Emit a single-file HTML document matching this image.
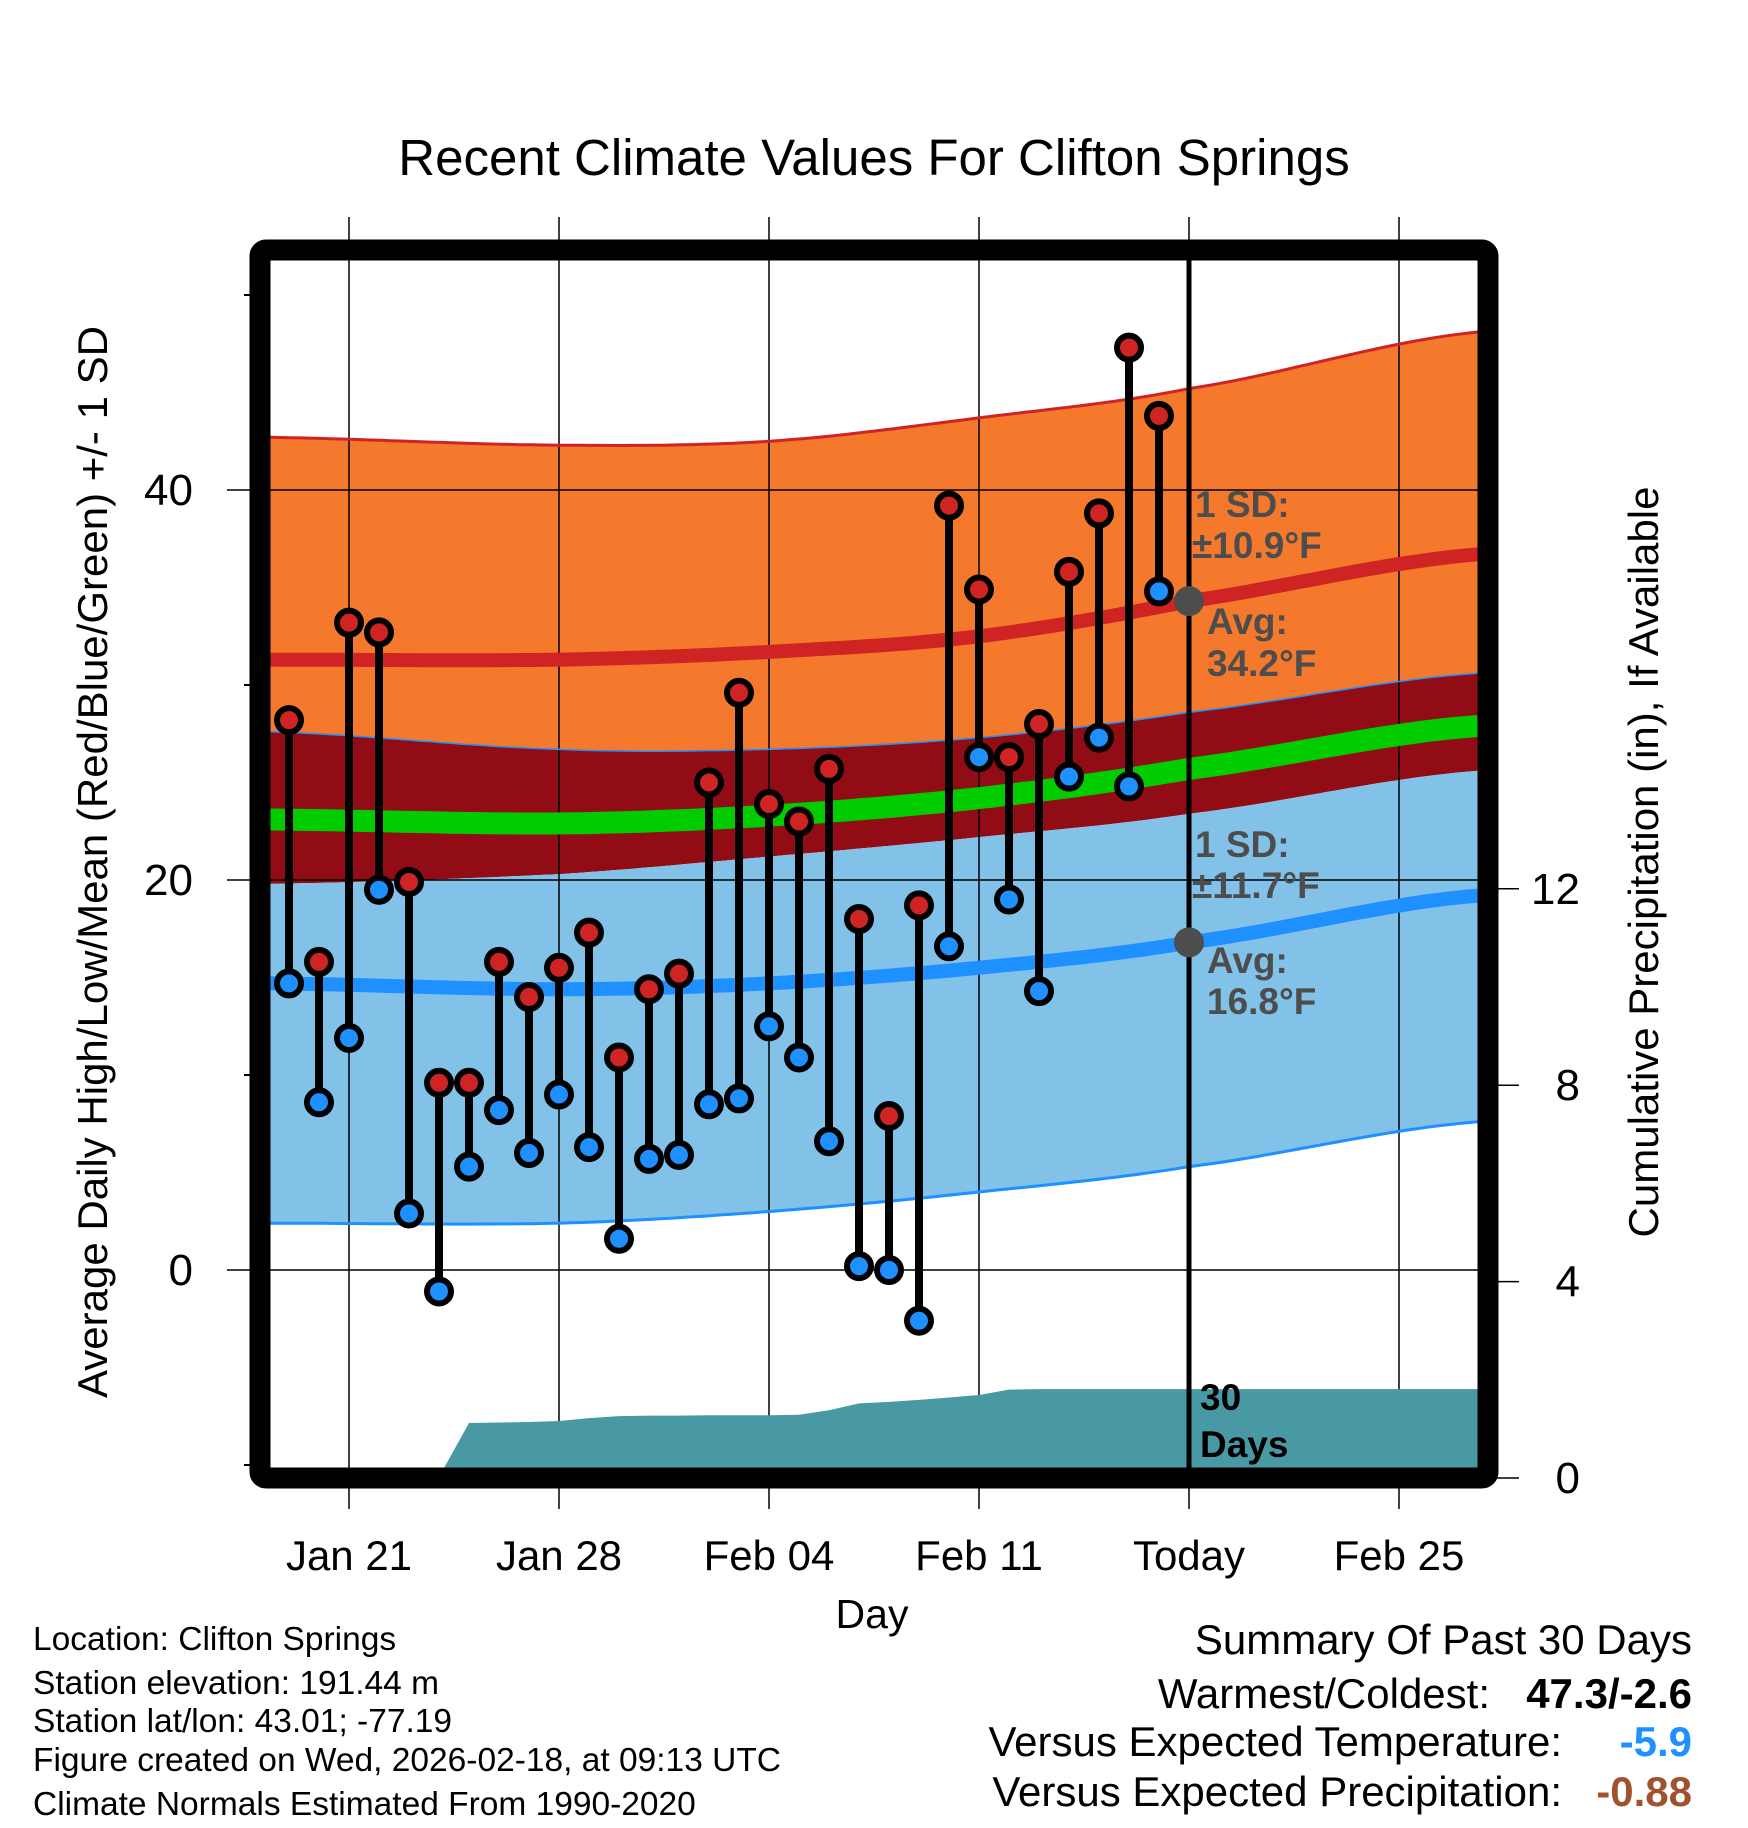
<!DOCTYPE html>
<html><head><meta charset="utf-8"><style>
html,body{margin:0;padding:0;background:#fff;}
svg{display:block;font-family:"Liberation Sans",sans-serif;}
</style></head><body>
<svg id="chart" width="1748" height="1828" viewBox="0 0 1748 1828" xmlns="http://www.w3.org/2000/svg">
<g id="g-fill"></g>
<g id="g-grid"></g>
<g id="g-precip"></g>
<g id="g-lines"></g>
<g id="g-marks"></g>
<g id="g-frame"></g>
<g id="g-text"></g>
</svg>
<script>
// ---- data ----
const days = [];for(let i=0;i<30;i++)days.push(i-2); // Jan19..Feb17, relative to Jan21
const highs = [28.2,15.8,33.2,32.7,19.9,9.6,9.6,15.8,14.0,15.5,17.3,10.9,14.4,15.2,25.0,29.6,23.9,23.0,25.7,18.0,7.9,18.7,39.2,34.9,26.3,28.0,35.8,38.8,47.3,43.8];
const lows  = [14.7,8.6,11.9,19.5,2.9,-1.1,5.3,8.2,6.0,9.0,6.3,1.6,5.7,5.9,8.5,8.8,12.5,10.9,6.6,0.2,0.0,-2.6,16.6,26.3,19.0,14.3,25.3,27.3,24.8,34.8];
const precip = [0,0,0,0,0,0.02,1.12,1.13,1.14,1.16,1.22,1.26,1.27,1.27,1.28,1.28,1.28,1.29,1.38,1.52,1.55,1.59,1.64,1.69,1.80,1.81,1.81,1.81,1.81,1.81];
const normDays = [-2.63,7,14,21,28,37.63];
const avgHigh = [31.3,31.3,31.7,32.5,34.3,36.7];
const hiUpper = [42.7,42.3,42.5,43.7,45.2,48.1];
const hiLower = [27.6,26.7,26.7,27.3,28.6,30.6];
const avgMean = [23.1,22.9,23.3,24.2,25.7,27.9];
const avgLow  = [14.7,14.4,14.7,15.5,16.8,19.2];
const loUpper = [19.8,20.3,21.2,22.2,23.4,25.6];
const loLower = [2.4,2.4,3.0,4.0,5.3,7.6];
const xTickDays = [0,7,14,21,28,35];
const xTickLabels = ["Jan 21","Jan 28","Feb 04","Feb 11","Today","Feb 25"];
const yTicks = [0,20,40];
const yMinor = [-10,10,30,50];
const pTicks = [0,4,8,12];
const todayDay = 28;

// ---- axes ----
const X0=270,X1=1478,Y0=260,Y1=1468;
const x = d => 349 + d*30;
const y = v => 1270 - v*19.5;
const yp = p => 1478 - p*49.1;
const NS="http://www.w3.org/2000/svg";
function mk(tag,attrs,parent){const e=document.createElementNS(NS,tag);for(const k in attrs)e.setAttribute(k,attrs[k]);parent.appendChild(e);return e;}
function interp(arr,d){
  let i=0;while(i<normDays.length-2&&d>normDays[i+1])i++;
  const t=(d-normDays[i])/(normDays[i+1]-normDays[i]);
  const p0=arr[Math.max(i-1,0)],p1=arr[i],p2=arr[i+1],p3=arr[Math.min(i+2,arr.length-1)];
  return 0.5*((2*p1)+(-p0+p2)*t+(2*p0-5*p1+4*p2-p3)*t*t+(-p0+3*p1-3*p2+p3)*t*t*t);
}
function curvePts(arr){const pts=[];for(let k=0;k<=120;k++){const d=normDays[0]+(normDays[5]-normDays[0])*k/120;pts.push([x(d),y(interp(arr,d))]);}return pts;}
function band(a,b){const A=curvePts(a),B=curvePts(b).reverse();return "M"+A.concat(B).map(p=>p[0].toFixed(1)+","+p[1].toFixed(1)).join("L")+"Z";}
function line(a){return "M"+curvePts(a).map(p=>p[0].toFixed(1)+","+p[1].toFixed(1)).join("L");}

const gF=document.getElementById('g-fill'),gG=document.getElementById('g-grid'),gP=document.getElementById('g-precip'),gL=document.getElementById('g-lines'),gM=document.getElementById('g-marks'),gFr=document.getElementById('g-frame'),gT=document.getElementById('g-text');
let e;
e=mk('path',{d:band(hiUpper,hiLower),fill:'#f5792c'},gF);


e=mk('path',{d:band(hiLower,loUpper),fill:'#910c14'},gF);


e=mk('path',{d:band(loUpper,loLower),fill:'#82c1e8'},gF);



// grid
xTickDays.forEach(d=>{e=mk('line',{x1:x(d),x2:x(d),y1:217,y2:1509,stroke:'#000','stroke-width':1.5},gG);

});
yTicks.forEach(v=>{e=mk('line',{x1:227,x2:X1,y1:y(v),y2:y(v),stroke:'#000','stroke-width':1.5},gG);

});
yMinor.forEach(v=>{e=mk('line',{x1:244,x2:252,y1:y(v),y2:y(v),stroke:'#000','stroke-width':2},gG);

});
pTicks.forEach(p=>{e=mk('line',{x1:1488,x2:1519,y1:yp(p),y2:yp(p),stroke:'#000','stroke-width':1.5},gG);

});

// precip
let pd="M"+x(days[0])+","+Y1;
days.forEach((d,i)=>{pd+="L"+x(d)+","+yp(precip[i]).toFixed(1);});
pd+="L"+X1+","+yp(precip[precip.length-1]).toFixed(1)+"L"+X1+","+Y1+"Z";
e=mk('path',{d:pd,fill:'#4899a3'},gP);



// lines
e=mk('path',{d:line(hiUpper),fill:'none',stroke:'#d02424','stroke-width':3},gL);


e=mk('path',{d:line(hiLower),fill:'none',stroke:'#1e90ff','stroke-width':1.5},gL);


e=mk('path',{d:line(loLower),fill:'none',stroke:'#1e90ff','stroke-width':3},gL);


e=mk('path',{d:line(avgHigh),fill:'none',stroke:'#d02424','stroke-width':14},gL);


e=mk('path',{d:line(avgMean),fill:'none',stroke:'#00cc00','stroke-width':22},gL);


e=mk('path',{d:line(avgLow),fill:'none',stroke:'#1e90ff','stroke-width':14},gL);



// today line
e=mk('line',{x1:x(todayDay),x2:x(todayDay),y1:Y0,y2:Y1,stroke:'#000','stroke-width':5},gL);


e=mk('circle',{cx:x(todayDay),cy:y(interp(avgHigh,todayDay)),r:15,fill:'#4d4d4d'},gL);


e=mk('circle',{cx:x(todayDay),cy:y(interp(avgLow,todayDay)),r:15,fill:'#4d4d4d'},gL);



// daily marks
days.forEach((d,i)=>{
  e=mk('line',{x1:x(d),x2:x(d),y1:y(highs[i]),y2:y(lows[i]),stroke:'#000','stroke-width':8},gM);
  
  
});
days.forEach((d,i)=>{
  e=mk('circle',{cx:x(d),cy:y(highs[i]),r:12,fill:'#d02424',stroke:'#000','stroke-width':6},gM);
  
  
  e=mk('circle',{cx:x(d),cy:y(lows[i]),r:12,fill:'#1e90ff',stroke:'#000','stroke-width':6},gM);
  
  
});

// frame
e=mk('rect',{x:260,y:250,width:1228,height:1228,rx:6,fill:'none',stroke:'#000','stroke-width':21},gFr);



// text
function txt(s,a){const t=mk('text',a,gT);t.textContent=s;return t;}
e=txt("Recent Climate Values For Clifton Springs",{x:874,y:175,'font-size':51,'text-anchor':'middle'});


xTickDays.forEach((d,i)=>{e=txt(xTickLabels[i],{x:x(d),y:1570,'font-size':42,'text-anchor':'middle'});

});
yTicks.forEach(v=>{e=txt(String(v),{x:193,y:y(v)+15,'font-size':44,'text-anchor':'end'});

});
pTicks.forEach(p=>{e=txt(String(p),{x:1580,y:yp(p)+15,'font-size':44,'text-anchor':'end'});

});
e=txt("Day",{x:872,y:1628,'font-size':41,'text-anchor':'middle'});


e=txt("Average Daily High/Low/Mean (Red/Blue/Green) +/- 1 SD",{x:0,y:0,'font-size':42,'text-anchor':'middle',transform:'translate(107,862) rotate(-90)'});


e=txt("Cumulative Precipitation (in), If Available",{x:0,y:0,'font-size':42,'text-anchor':'middle',transform:'translate(1658,862) rotate(-90)'});


const ann=[["1 SD:",1195,517],["±10.9°F",1192,558],["Avg:",1207,634],["34.2°F",1207,676],["1 SD:",1195,857],["±11.7°F",1192,898],["Avg:",1207,973],["16.8°F",1207,1014]];
ann.forEach(a=>{e=txt(a[0],{x:a[1],y:a[2],'font-size':37,'font-weight':'bold',fill:'#4d4d4d'});

});
e=txt("30",{x:1200,y:1410,'font-size':37,'font-weight':'bold'});


e=txt("Days",{x:1200,y:1457,'font-size':37,'font-weight':'bold'});


const info=[["Location: Clifton Springs",1650],["Station elevation: 191.44 m",1694],["Station lat/lon: 43.01; -77.19",1732],["Figure created on Wed, 2026-02-18, at 09:13 UTC",1771],["Climate Normals Estimated From 1990-2020",1815]];
info.forEach(a=>{e=txt(a[0],{x:33,y:a[1],'font-size':33.5});

});
e=txt("Summary Of Past 30 Days",{x:1692,y:1654,'font-size':42,'text-anchor':'end'});


e=txt("Warmest/Coldest:",{x:1490,y:1708,'font-size':42,'text-anchor':'end'});


e=txt("47.3/-2.6",{x:1692,y:1708,'font-size':42,'font-weight':'bold','text-anchor':'end'});


e=txt("Versus Expected Temperature:",{x:1562,y:1756,'font-size':42,'text-anchor':'end'});


e=txt("-5.9",{x:1692,y:1756,'font-size':42,'font-weight':'bold','text-anchor':'end',fill:'#1e90ff'});


e=txt("Versus Expected Precipitation:",{x:1562,y:1806,'font-size':42,'text-anchor':'end'});


e=txt("-0.88",{x:1692,y:1806,'font-size':42,'font-weight':'bold','text-anchor':'end',fill:'#a0522d'});


</script>
</body></html>
